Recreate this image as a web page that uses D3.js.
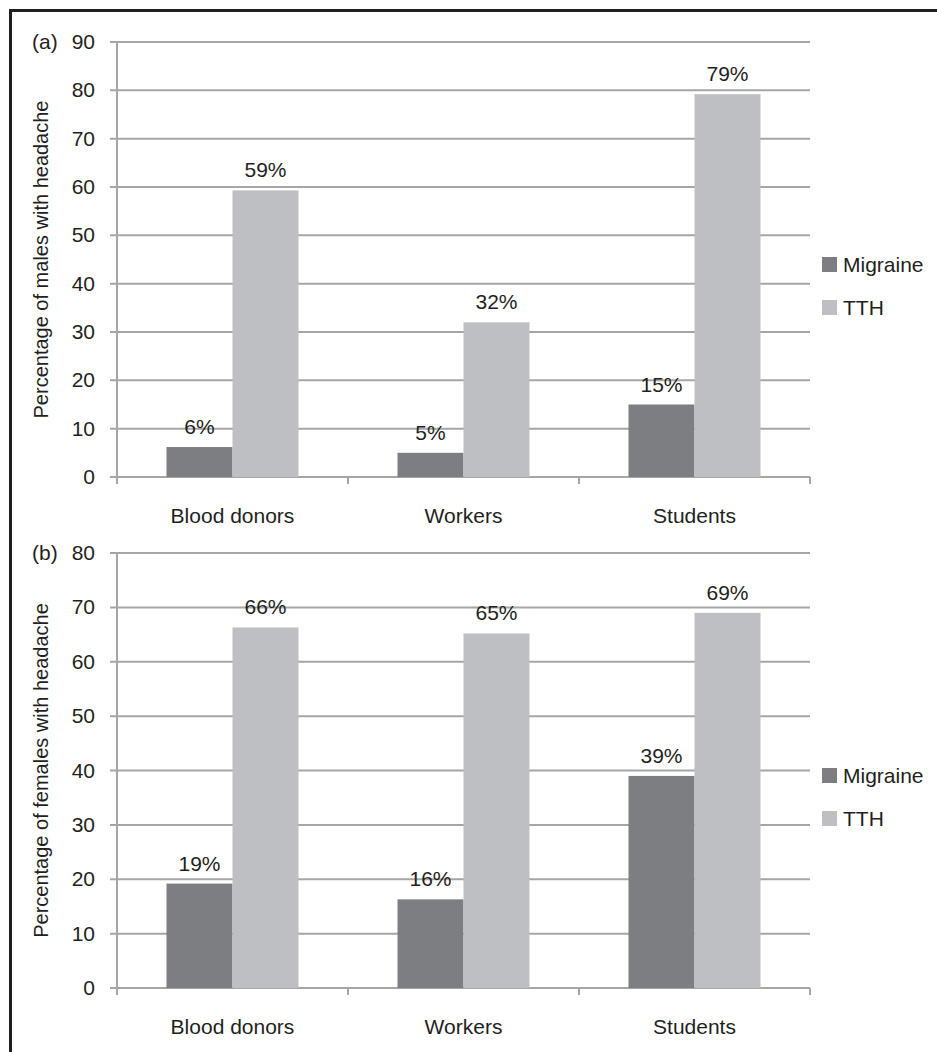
<!DOCTYPE html>
<html>
<head>
<meta charset="utf-8">
<script src="https://cdn.jsdelivr.net/npm/d3@7"></script>
<style>
  body { margin: 0; background: #fff; }
  svg text { font-family: "Liberation Sans", Arial, sans-serif; fill: #231f20; }
</style>
</head>
<body>
<svg id="chart" width="937" height="1052"></svg>
<script>
const categories = ["Blood donors", "Workers", "Students"];
const series = ["Migraine", "TTH"];

// panel (a) males
const malesMigraine = [6.2, 5, 15];
const malesTTH = [59.3, 32, 79.2];
const malesTicks = [0, 10, 20, 30, 40, 50, 60, 70, 80, 90];

// panel (b) females
const femalesMigraine = [19.2, 16.3, 39];
const femalesTTH = [66.3, 65.2, 69];
const femalesTicks = [0, 10, 20, 30, 40, 50, 60, 70, 80];

const colors = { Migraine: "#7d7e82", TTH: "#bebfc2" };
const gridColor = "#a6a6a8";

const svg = d3.select("#chart");

// frame (top + left)
svg.append("path")
  .attr("d", "M10.5,1052 L10.5,10.5 L937,10.5")
  .attr("fill", "none")
  .attr("stroke", "#231f20")
  .attr("stroke-width", 3);

function drawPanel(opt) {
  const g = svg.append("g");
  const left = 117, right = 810;

  const x = d3.scaleBand()
    .domain(categories)
    .range([left, right])
    .paddingInner(0)
    .paddingOuter(0);

  const xs = d3.scaleBand()
    .domain(series)
    .range([0, x.bandwidth()])
    .paddingInner(0)
    .paddingOuter(0.75);

  const y = d3.scaleLinear()
    .domain([0, d3.max(opt.ticks)])
    .range([opt.bottom, opt.top]);

  // gridlines
  g.selectAll("line.grid")
    .data(opt.ticks)
    .join("line")
    .attr("class", "grid")
    .attr("x1", left - 7)
    .attr("x2", right)
    .attr("y1", d => y(d))
    .attr("y2", d => y(d))
    .attr("stroke", gridColor)
    .attr("stroke-width", 2);

  // y axis line
  g.append("line")
    .attr("x1", left).attr("x2", left)
    .attr("y1", y(d3.max(opt.ticks))).attr("y2", opt.bottom + 7)
    .attr("stroke", gridColor)
    .attr("stroke-width", 2);

  // x tick marks at category boundaries
  const bounds = categories.map(c => x(c)).concat([right]);
  g.selectAll("line.xtick")
    .data(bounds)
    .join("line")
    .attr("class", "xtick")
    .attr("x1", d => d).attr("x2", d => d)
    .attr("y1", opt.bottom).attr("y2", opt.bottom + 7)
    .attr("stroke", gridColor)
    .attr("stroke-width", 2);

  // y tick labels
  g.selectAll("text.ytick")
    .data(opt.ticks)
    .join("text")
    .attr("class", "ytick")
    .attr("x", 95)
    .attr("y", d => y(d) + 7)
    .attr("text-anchor", "end")
    .style("font-size", "21px")
    .text(d => d);

  // bars
  const rows = [];
  categories.forEach((c, i) => {
    rows.push({ cat: c, s: "Migraine", v: opt.migraine[i] });
    rows.push({ cat: c, s: "TTH", v: opt.tth[i] });
  });

  g.selectAll("rect.bar")
    .data(rows)
    .join("rect")
    .attr("class", "bar")
    .attr("x", d => x(d.cat) + xs(d.s))
    .attr("width", xs.bandwidth())
    .attr("y", d => y(d.v))
    .attr("height", d => y(0) - y(d.v))
    .attr("fill", d => colors[d.s]);

  // value labels
  g.selectAll("text.val")
    .data(rows)
    .join("text")
    .attr("class", "val")
    .attr("x", d => x(d.cat) + xs(d.s) + xs.bandwidth() / 2)
    .attr("y", d => y(d.v) - 13)
    .attr("text-anchor", "middle")
    .style("font-size", "21px")
    .text(d => Math.round(d.v) + "%");

  // category labels
  g.selectAll("text.cat")
    .data(categories)
    .join("text")
    .attr("class", "cat")
    .attr("x", d => x(d) + x.bandwidth() / 2)
    .attr("y", opt.bottom + 46)
    .attr("text-anchor", "middle")
    .style("font-size", "21px")
    .text(d => d);

  // panel letter
  g.append("text")
    .attr("x", 32)
    .attr("y", y(d3.max(opt.ticks)) + 7)
    .style("font-size", "21px")
    .text(opt.letter);

  // y axis title
  g.append("text")
    .attr("transform", `translate(48,${(opt.top + opt.bottom) / 2}) rotate(-90)`)
    .attr("text-anchor", "middle")
    .style("font-size", "20px")
    .text(opt.title);

  // legend
  const leg = g.selectAll("g.leg")
    .data(series)
    .join("g")
    .attr("class", "leg")
    .attr("transform", (d, i) => `translate(822,${opt.legendY + i * 43})`);
  leg.append("rect")
    .attr("x", 0).attr("y", -7)
    .attr("width", 15).attr("height", 15)
    .attr("fill", d => colors[d]);
  leg.append("text")
    .attr("x", 21)
    .attr("y", 8)
    .style("font-size", "21px")
    .text(d => d);
}

drawPanel({
  letter: "(a)",
  title: "Percentage of males with headache",
  ticks: malesTicks,
  migraine: malesMigraine,
  tth: malesTTH,
  top: 42, bottom: 477,
  legendY: 264
});

drawPanel({
  letter: "(b)",
  title: "Percentage of females with headache",
  ticks: femalesTicks,
  migraine: femalesMigraine,
  tth: femalesTTH,
  top: 553, bottom: 988,
  legendY: 775
});
</script>
</body>
</html>
